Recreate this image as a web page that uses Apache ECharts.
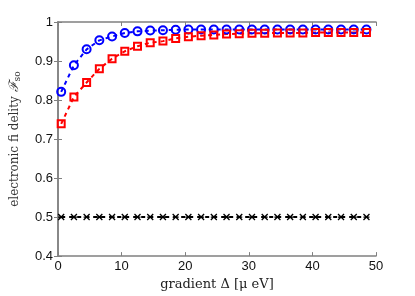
<!DOCTYPE html>
<html><head><meta charset="utf-8">
<script src="https://cdn.jsdelivr.net/npm/echarts@6/dist/echarts.min.js"></script>
<style>html,body{margin:0;padding:0;background:#fff}#c{width:415px;height:296px}</style>
</head><body><div id="c"></div>
<script>
const gradient = [0.5,2.5,4.5,6.5,8.5,10.5,12.5,14.5,16.5,18.5,20.5,22.5,24.5,26.5,28.5,30.5,32.5,34.5,36.5,38.5,40.5,42.5,44.5,46.5,48.5];
const blueSeries = [0.821,0.889,0.930,0.953,0.963,0.972,0.976,0.978,0.979,0.980,0.981,0.981,0.981,0.981,0.981,0.981,0.981,0.981,0.981,0.981,0.981,0.981,0.981,0.981,0.981];
const redSeries = [0.739,0.808,0.845,0.880,0.906,0.925,0.938,0.947,0.951,0.958,0.962,0.965,0.967,0.969,0.970,0.971,0.971,0.972,0.972,0.972,0.973,0.973,0.973,0.973,0.973];
const blackSeries = [0.5,0.5,0.5,0.5,0.5,0.5,0.5,0.5,0.5,0.5,0.5,0.5,0.5,0.5,0.5,0.5,0.5,0.5,0.5,0.5,0.5,0.5,0.5,0.5,0.5];
const xTicks = [0,10,20,30,40,50];
const yTicks = [0.4,0.5,0.6,0.7,0.8,0.9,1];

const pair = arr => gradient.map((x,i)=>[x,arr[i]]);
const axisGray = '#808080';
const mkSeries = (data, color, symbol, size, bw) => ({
  type:'line', data: pair(data), symbol, symbolSize:size, showSymbol:true,
  lineStyle:{color, width:2, type:[4,4]},
  itemStyle:{color:'rgba(0,0,0,0)', borderColor:color, borderWidth:bw},
  z:3
});
const chart = echarts.init(document.getElementById('c'));
chart.setOption({
  animation:false,
  grid:{left:54,right:39,top:22,bottom:32},
  xAxis:[{
    type:'value', min:0, max:50, interval:10,
    name:'gradient Δ [μ eV]', nameLocation:'middle', nameGap:13,
    nameTextStyle:{fontFamily:'DejaVu Serif', fontSize:13, color:'#222'},
    axisLine:{lineStyle:{color:axisGray, width:1.5}},
    axisTick:{inside:true, length:4, lineStyle:{color:axisGray}},
    axisLabel:{fontFamily:'Liberation Sans', fontSize:13, color:'#111', margin:4,
      formatter:v=>xTicks.includes(v)?String(v):''},
    splitLine:{show:false}
  },{
    type:'value', min:0, max:50, interval:10, position:'top',
    axisLine:{lineStyle:{color:axisGray, width:1.5}},
    axisTick:{inside:true, length:4, lineStyle:{color:axisGray}},
    axisLabel:{show:false}, splitLine:{show:false}
  }],
  yAxis:[{
    type:'value', min:0.4, max:1, interval:0.1,
    name:'{a|electronic fi delity }{b|ℱ}{c|so}', nameLocation:'middle', nameGap:36,
    nameTextStyle:{rich:{
      a:{fontFamily:'DejaVu Serif', fontSize:12, color:'#333'},
      b:{fontFamily:'DejaVu Serif', fontSize:13, fontStyle:'italic', color:'#333'},
      c:{fontFamily:'DejaVu Serif', fontSize:9, color:'#333', verticalAlign:'bottom', padding:[6,0,0,0]}
    }},
    axisLine:{show:true, lineStyle:{color:axisGray, width:1.5}},
    axisTick:{show:true, inside:true, length:4, lineStyle:{color:axisGray}},
    axisLabel:{fontFamily:'Liberation Sans', fontSize:13, color:'#111', margin:5,
      formatter:v=>{const t=yTicks.find(y=>Math.abs(y-v)<1e-6);return t===undefined?'':String(t);}},
    splitLine:{show:false}
  },{
    type:'value', min:0.4, max:1, interval:0.1, position:'right',
    axisLine:{show:true, lineStyle:{color:axisGray, width:1.5}},
    axisTick:{show:true, inside:true, length:4, lineStyle:{color:axisGray}},
    axisLabel:{show:false}, splitLine:{show:false}
  }],
  series:[
    mkSeries(blueSeries,'#0000ff','circle',8,2),
    mkSeries(redSeries,'#ff0000','rect',7,2),
    mkSeries(blackSeries,'#000000','path://M0,0L10,10M10,0L0,10M0,5L10,5',6,1.3)
  ]
});
</script></body></html>
